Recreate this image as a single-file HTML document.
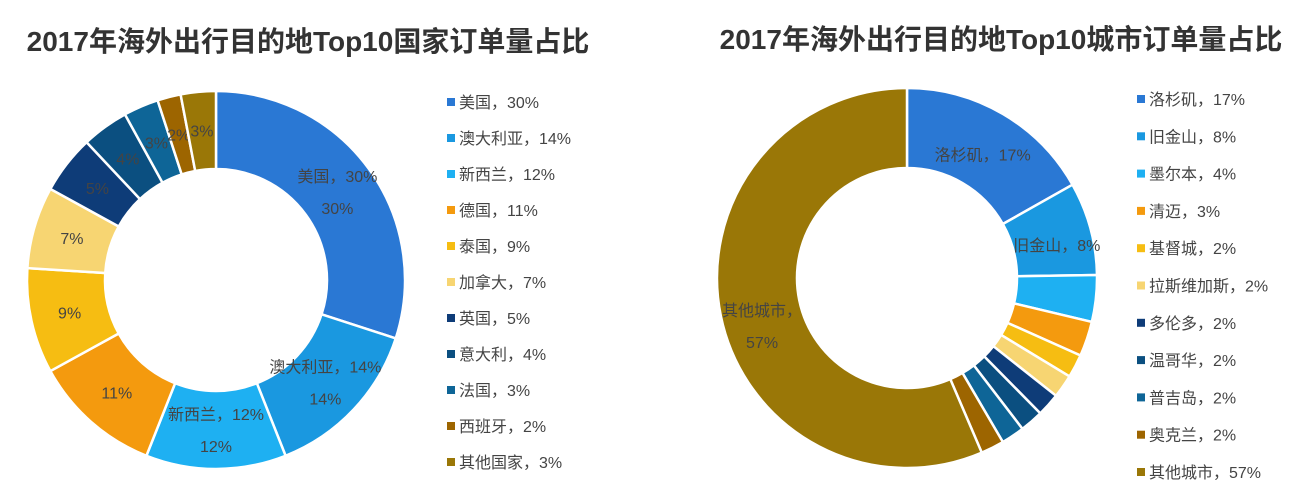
<!DOCTYPE html>
<html><head><meta charset="utf-8">
<style>
html,body{margin:0;padding:0;background:#fff;}
svg{display:block;font-family:"Liberation Sans","Noto Sans CJK SC",sans-serif;}
</style></head>
<body>
<svg id="c" width="1299" height="500" viewBox="0 0 1299 500">
<text x="308" y="51" text-anchor="middle" font-size="28" font-weight="bold" fill="#333">2017年海外出行目的地Top10国家订单量占比</text>
<text x="1001" y="49" text-anchor="middle" font-size="28" font-weight="bold" fill="#333">2017年海外出行目的地Top10城市订单量占比</text>
</svg>
<script>
const countryNames = ["美国","澳大利亚","新西兰","德国","泰国","加拿大","英国","意大利","法国","西班牙","其他国家"];
const countryValues = [30,14,12,11,9,7,5,4,3,2,3];
const countryColors = ["#2a78d4","#1a98e0","#1eb0f2","#f49a0e","#f6bd12","#f7d572","#0e3c78","#0b4f80","#0e6597","#9d6500","#9a7707"];
const cityNames = ["洛杉矶","旧金山","墨尔本","清迈","基督城","拉斯维加斯","多伦多","温哥华","普吉岛","奥克兰","其他城市"];
const cityValues = [17,8,4,3,2,2,2,2,2,2,57];
const cityColors = countryColors;

const svg = document.getElementById('c');
const NS = "http://www.w3.org/2000/svg";
function mk(tag, attrs){const e=document.createElementNS(NS,tag);for(const k in attrs)e.setAttribute(k,attrs[k]);return e;}

function donut(names, values, colors, cx, cy, ro, ri, prefix, labelFn){
  const total = values.reduce((a,b)=>a+b,0);
  let acc = 0;
  values.forEach((v,i)=>{
    const a0 = acc/total*2*Math.PI, a1=(acc+v)/total*2*Math.PI;
    acc += v;
    const p=(a,r)=>[cx+r*Math.sin(a), cy-r*Math.cos(a)];
    const large = (a1-a0)>Math.PI?1:0;
    const [x0,y0]=p(a0,ro),[x1,y1]=p(a1,ro),[x2,y2]=p(a1,ri),[x3,y3]=p(a0,ri);
    const path = mk('path',{d:`M${x0},${y0}A${ro},${ro} 0 ${large} 1 ${x1},${y1}L${x2},${y2}A${ri},${ri} 0 ${large} 0 ${x3},${y3}Z`,fill:colors[i],stroke:'#fff','stroke-width':2.5});
    
    
    svg.appendChild(path);
    const lab = labelFn(i, v, names[i]);
    if(lab){
      const am=(a0+a1)/2, rm=(ro+ri)/2;
      const [lx,ly]=p(am,rm);
      lab.t.forEach((t,j)=>{
        const tx = mk('text',{x:lx+(lab.dx||0),y:ly+(lab.dy||0)+6+(j-(lab.t.length-1)/2)*32,'text-anchor':'middle','font-size':16,fill:'#444'});
        tx.textContent=t;
        
        
        svg.appendChild(tx);
      });
    }
  });
}
function legend(names, values, colors, x, y0, dy, prefix){
  names.forEach((n,i)=>{
    const g = mk('g',{});
    
    
    g.appendChild(mk('rect',{x:x,y:y0+i*dy-4,width:8,height:8,fill:colors[i]}));
    const t = mk('text',{x:x+12,y:y0+i*dy+6,'font-size':16,fill:'#444'});
    t.textContent = n+'，'+values[i]+'%';
    g.appendChild(t);
    svg.appendChild(g);
  });
}
donut(countryNames,countryValues,countryColors,216,280,189,111,'country',(i,v,n)=>{
  if(i<3) return {t:[n+'，'+v+'%', v+'%']};
  return {t:[v+'%']};
});
donut(cityNames,cityValues,cityColors,907,278,190,110,'city',(i,v,n)=>{
  if(i===0) return {t:[n+'，'+v+'%'],dy:6};
  if(i===1) return {t:[n+'，'+v+'%'],dx:5,dy:6};
  if(i===10) return {t:[n+'，', v+'%'],dx:2,dy:18};
  return null;
});
legend(countryNames,countryValues,countryColors,447,102,36,'country');
legend(cityNames,cityValues,cityColors,1137,99,37.3,'city');
</script>
</body></html>
